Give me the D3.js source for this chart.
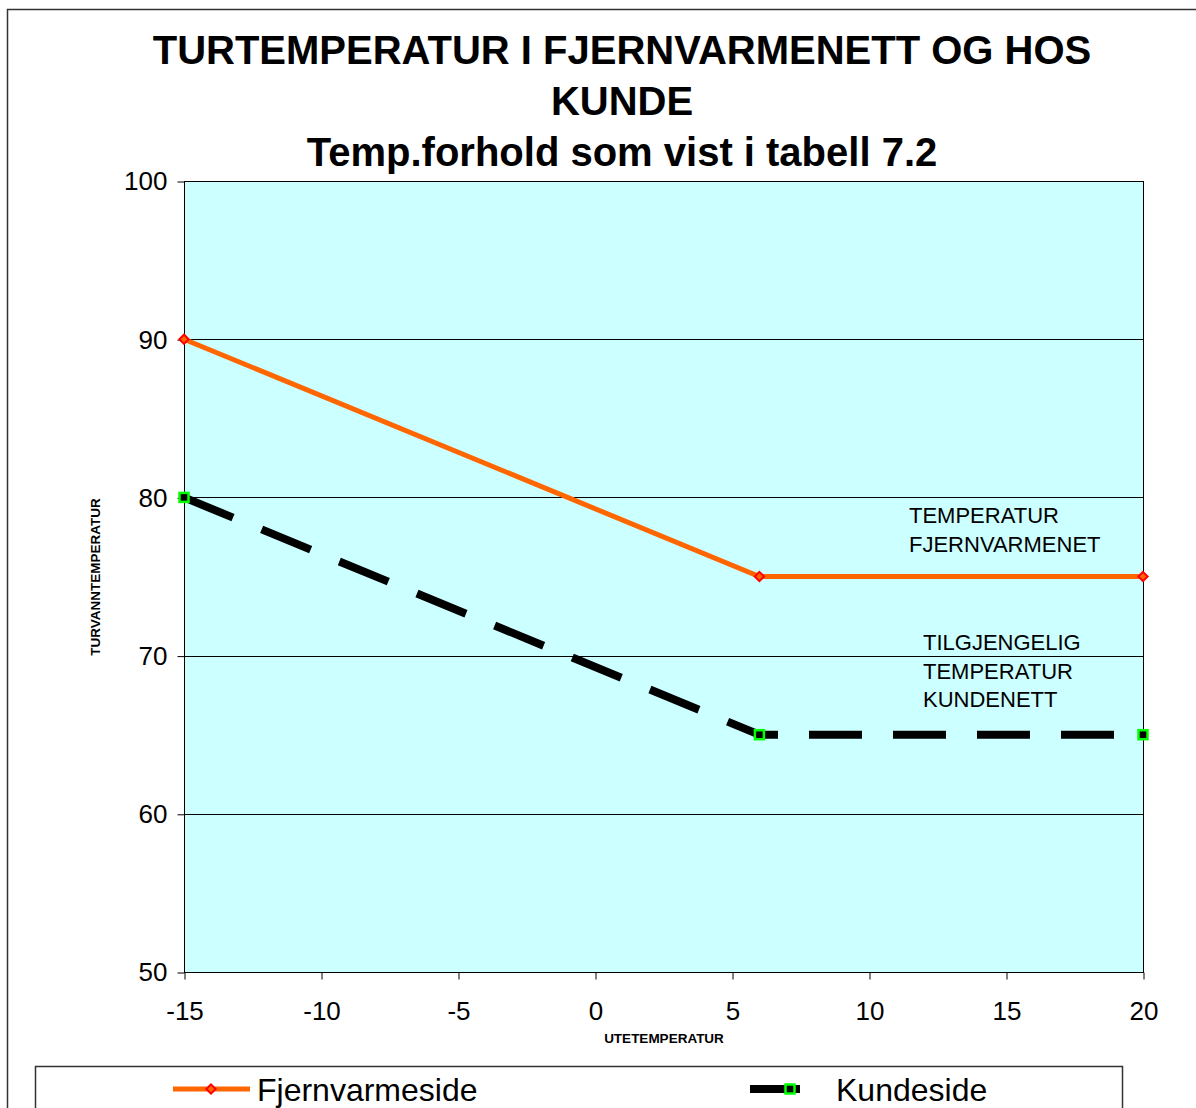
<!DOCTYPE html>
<html lang="no">
<head>
    <meta charset="utf-8">
    <title>Turtemperatur i fjernvarmenett og hos kunde</title>
    <script src="https://d3js.org/d3.v7.min.js"></script>
    <style>
        body {
            margin: 0;
            background: white;
        }

        svg text {
            font-family: "Liberation Sans", Arial, sans-serif;
        }

        .tick text {
            font-size: 26px;
            fill: black;
        }

        .title {
            font-weight: bold;
            font-size: 40px;
        }

        .axis-title {
            font-weight: bold;
            font-size: 13.5px;
        }

        .note {
            font-size: 22px;
        }
    </style>
</head>
<body>
<div id="chart"></div>

<script>
    var titleLines = ["TURTEMPERATUR I FJERNVARMENETT OG HOS", "KUNDE", "Temp.forhold som vist i tabell 7.2"];
    var xTicks = [-15, -10, -5, 0, 5, 10, 15, 20];
    var yTicks = [50, 60, 70, 80, 90, 100];

    var utetemp = [-15, 6, 20];
    var fjernvarmeside = [90, 75, 75];
    var kundeside = [80, 65, 65];

    var w = 1196;
    var h = 1108;
    var plotLeft = 184, plotRight = 1143, plotTop = 181, plotBottom = 972;

    var svg = d3.select("#chart")
        .append("svg")
        .attr("width", w)
        .attr("height", h);

    // outer chart frame (runs off the right/bottom edge)
    svg.append("rect")
        .attr("x", 7.5)
        .attr("y", 9.5)
        .attr("width", 1250)
        .attr("height", 1200)
        .attr("fill", "white")
        .attr("stroke", "#333")
        .attr("stroke-width", 1.5);

    var xScale = d3.scaleLinear().domain([-15, 20]).range([plotLeft, plotRight]);
    var yScale = d3.scaleLinear().domain([50, 100]).range([plotBottom, plotTop]);

    svg.append("rect")
        .attr("x", plotLeft)
        .attr("y", plotTop)
        .attr("width", plotRight - plotLeft)
        .attr("height", plotBottom - plotTop)
        .attr("fill", "#CCFFFF");

    // gridlines
    svg.append("g")
        .selectAll("line")
        .data(yTicks.filter(d => d > 50 && d < 100))
        .enter()
        .append("line")
        .attr("x1", plotLeft)
        .attr("x2", plotRight)
        .attr("y1", d => Math.round(yScale(d)) + 0.5)
        .attr("y2", d => Math.round(yScale(d)) + 0.5)
        .attr("stroke", "black")
        .attr("stroke-width", 1);

    svg.append("rect")
        .attr("x", plotLeft + 0.5)
        .attr("y", plotTop + 0.5)
        .attr("width", plotRight - plotLeft)
        .attr("height", plotBottom - plotTop)
        .attr("fill", "none")
        .attr("stroke", "black")
        .attr("stroke-width", 1);

    var xAxis = svg.append("g")
        .attr("transform", `translate(0.5, ${plotBottom + 0.5})`)
        .call(d3.axisBottom(xScale).tickValues(xTicks).tickSize(7).tickPadding(22).tickFormat(d => String(d)));
    xAxis.select(".domain").remove();

    var yAxis = svg.append("g")
        .attr("transform", `translate(${plotLeft + 0.5}, 0.5)`)
        .call(d3.axisLeft(yScale).tickValues(yTicks).tickSize(7).tickPadding(10).tickFormat(d => String(d)));
    yAxis.select(".domain").remove();

    var line = d3.line()
        .x((d, i) => xScale(utetemp[i]))
        .y(d => yScale(d));

    svg.append("path")
        .datum(fjernvarmeside)
        .attr("d", line)
        .attr("fill", "none")
        .attr("stroke", "#FF6600")
        .attr("stroke-width", 5);

    svg.append("path")
        .datum(kundeside)
        .attr("d", line)
        .attr("fill", "none")
        .attr("stroke", "black")
        .attr("stroke-width", 8)
        .attr("stroke-dasharray", "53,31");

    svg.selectAll(".diamond")
        .data(fjernvarmeside)
        .enter()
        .append("path")
        .attr("class", "diamond")
        .attr("d", d3.symbol().type(d3.symbolDiamond2).size(55))
        .attr("transform", (d, i) => `translate(${xScale(utetemp[i])}, ${yScale(d)})`)
        .attr("fill", "#FF6600")
        .attr("stroke", "red")
        .attr("stroke-width", 2);

    svg.selectAll(".square")
        .data(kundeside)
        .enter()
        .append("rect")
        .attr("class", "square")
        .attr("x", (d, i) => xScale(utetemp[i]) - 4.5)
        .attr("y", d => yScale(d) - 4.5)
        .attr("width", 9)
        .attr("height", 9)
        .attr("fill", "black")
        .attr("stroke", "#00FF00")
        .attr("stroke-width", 2.5);

    // titles
    svg.selectAll(".title")
        .data(titleLines)
        .enter()
        .append("text")
        .attr("class", "title")
        .attr("x", 622)
        .attr("y", (d, i) => 64 + i * 51)
        .attr("text-anchor", "middle")
        .text(d => d);

    svg.append("text")
        .attr("class", "axis-title")
        .attr("transform", "translate(100, 577) rotate(-90)")
        .attr("text-anchor", "middle")
        .text("TURVANNTEMPERATUR");

    svg.append("text")
        .attr("class", "axis-title")
        .attr("x", 664)
        .attr("y", 1043)
        .attr("text-anchor", "middle")
        .text("UTETEMPERATUR");

    // annotations
    svg.append("text")
        .attr("class", "note")
        .selectAll("tspan")
        .data(["TEMPERATUR", "FJERNVARMENET"])
        .enter()
        .append("tspan")
        .attr("x", 909)
        .attr("y", (d, i) => 523 + i * 29)
        .text(d => d);

    svg.append("text")
        .attr("class", "note")
        .selectAll("tspan")
        .data(["TILGJENGELIG", "TEMPERATUR", "KUNDENETT"])
        .enter()
        .append("tspan")
        .attr("x", 923)
        .attr("y", (d, i) => 650 + i * 28.5)
        .text(d => d);

    // legend
    svg.append("rect")
        .attr("x", 35.5)
        .attr("y", 1066.5)
        .attr("width", 1087)
        .attr("height", 80)
        .attr("fill", "white")
        .attr("stroke", "#333")
        .attr("stroke-width", 1.5);

    var legendY = 1089;
    var leg1 = svg.append("g");
    leg1.append("line")
        .attr("x1", 173).attr("x2", 250)
        .attr("y1", legendY).attr("y2", legendY)
        .attr("stroke", "#FF6600")
        .attr("stroke-width", 5);
    leg1.append("path")
        .attr("d", d3.symbol().type(d3.symbolDiamond2).size(55))
        .attr("transform", `translate(211, ${legendY})`)
        .attr("fill", "#FF6600")
        .attr("stroke", "red")
        .attr("stroke-width", 2);
    leg1.append("text")
        .attr("x", 257)
        .attr("y", legendY + 12)
        .style("font-size", "32px")
        .text("Fjernvarmeside");

    var leg2 = svg.append("g");
    leg2.append("line")
        .attr("x1", 750).attr("x2", 800)
        .attr("y1", legendY).attr("y2", legendY)
        .attr("stroke", "black")
        .attr("stroke-width", 8);
    leg2.append("rect")
        .attr("x", 790 - 4.5).attr("y", legendY - 4.5)
        .attr("width", 9).attr("height", 9)
        .attr("fill", "black")
        .attr("stroke", "#00FF00")
        .attr("stroke-width", 2.5);
    leg2.append("text")
        .attr("x", 836)
        .attr("y", legendY + 12)
        .style("font-size", "32px")
        .text("Kundeside");
</script>
</body>
</html>
